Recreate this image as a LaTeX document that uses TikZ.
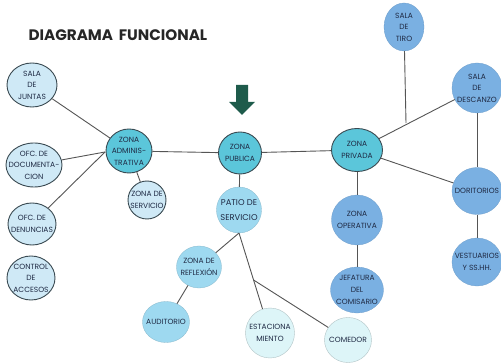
\documentclass[tikz,border=0pt]{standalone}
\usepackage{fontspec}
\setmainfont{Poppins}
\usetikzlibrary{shapes.geometric,calc}
\definecolor{lightc}{HTML}{CFE9F6}
\definecolor{tealc}{HTML}{5BC6DA}
\definecolor{skyc}{HTML}{9ED9F0}
\definecolor{palec}{HTML}{DDF5F8}
\definecolor{midblue}{HTML}{7AB0E2}
\definecolor{bord}{HTML}{3A4A52}
\definecolor{arrowgreen}{HTML}{1E5B4B}
\definecolor{linec}{HTML}{555555}
\definecolor{textc}{HTML}{1F2A44}
\tikzset{
  bub/.style={ellipse, inner xsep=-7pt, inner ysep=-3pt, align=center, font=\fontsize{7.5}{11.6}\selectfont, text=textc},
  lightb/.style={bub, fill=lightc, draw=bord, line width=0.9pt},
  tealb/.style={bub, fill=tealc, draw=bord, line width=0.9pt},
  skyb/.style={bub, fill=skyc, draw=skyc!85!black, line width=0.3pt},
  paleb/.style={bub, fill=palec, draw=palec!80!black, line width=0.4pt},
  blueb/.style={bub, fill=midblue, draw=midblue!90!black, line width=0.3pt},
  conn/.style={draw=linec, line width=0.9pt},
}
\begin{document}
\begin{tikzpicture}[x=1pt,y=-1pt]
\useasboundingbox (0,0) rectangle (501,363);
\fill[white] (0,0) rectangle (501,363);
\node[anchor=west, font=\fontsize{15.2}{17}\selectfont\bfseries, text=black!85] (title) at (25,35) {DIAGRAMA\, FUNCIONAL};
% arrow
\fill[arrowgreen] (236,85) -- (248,85) -- (248,102) -- (255,102) -- (242,115) -- (229,102) -- (236,102) -- cycle;
% nodes
\node[lightb, minimum width=50pt, minimum height=44pt] (juntas) at (32,85) {SALA\\DE\\JUNTAS};
\node[tealb, minimum width=46pt, minimum height=44pt] (admin) at (129,151) {ZONA\\ADMINIS-\\TRATIVA};
\node[lightb, minimum width=56pt, minimum height=44pt] (doc) at (34,165) {OFC. DE\\DOCUMENTA-\\CION};
\node[lightb, minimum width=48pt, minimum height=42pt] (denun) at (32,224) {OFC. DE\\DENUNCIAS};
\node[lightb, minimum width=48pt, minimum height=44pt] (control) at (31,278) {CONTROL\\DE\\ACCESOS};
\node[lightb, minimum width=38pt, minimum height=38pt] (servicio) at (147,200) {ZONA DE\\SERVICIO};
\node[tealb, minimum width=43pt, minimum height=42pt] (publica) at (240,153) {ZONA\\PUBLICA};
\node[skyb, minimum width=45pt, minimum height=46pt, font=\fontsize{8.4}{14.5}\selectfont] (patio) at (239,210) {PATIO DE\\SERVICIO};
\node[tealb, minimum width=51pt, minimum height=43pt] (privada) at (357,150) {ZONA\\PRIVADA};
\node[blueb, minimum width=40pt, minimum height=48pt] (tiro) at (404,27) {SALA\\DE\\TIRO};
\node[blueb, minimum width=50pt, minimum height=50pt] (descanzo) at (477,88) {SALA\\DE\\DESCANZO};
\node[blueb, minimum width=50pt, minimum height=47pt] (dorit) at (477,191) {DORITORIOS};
\node[blueb, minimum width=50pt, minimum height=48pt] (vest) at (477,262) {VESTUARIOS\\Y SS.HH.};
\node[blueb, minimum width=51pt, minimum height=50pt] (operativa) at (357,220) {ZONA\\OPERATIVA};
\node[blueb, minimum width=53pt, minimum height=46pt] (jefatura) at (357,290) {JEFATURA\\DEL\\COMISARIO};
\node[skyb, minimum width=45pt, minimum height=42pt] (reflex) at (199,267) {ZONA DE\\REFLEXIÓN};
\node[skyb, minimum width=47pt, minimum height=41pt] (audit) at (166,322) {AUDITORIO};
\node[paleb, minimum width=49pt, minimum height=50pt] (estac) at (270,333) {ESTACIONA\\MIENTO};
\node[paleb, minimum width=47pt, minimum height=45pt] (comedor) at (348,340) {COMEDOR};
% junction coordinates
\coordinate (adminw) at (105,152);
\coordinate (patios) at (239,233);
\coordinate (jpatio) at ($(patios)!0.47!(estac.center)$);
\coordinate (jtiro) at (406,123);
% connectors
\draw[conn] (juntas) -- (admin);
\draw[conn] (doc) -- (adminw);
\draw[conn] (denun) -- (adminw);
\draw[conn] (admin) -- (servicio);
\draw[conn] (admin) -- (publica);
\draw[conn] (publica) -- (privada);
\draw[conn] (publica) -- (patio);
\draw[conn] (patios) -- (reflex);
\draw[conn] (patios) -- (estac);
\draw[conn] (jpatio) -- (comedor);
\draw[conn] (reflex) -- (audit);
\draw[conn] (privada) -- (descanzo);
\draw[conn] (tiro) -- (jtiro);
\draw[conn] (privada) -- (dorit);
\draw[conn] (descanzo) -- (dorit);
\draw[conn] (dorit) -- (vest);
\draw[conn] (privada) -- (operativa);
\draw[conn] (operativa) -- (jefatura);
\end{tikzpicture}
\end{document}
